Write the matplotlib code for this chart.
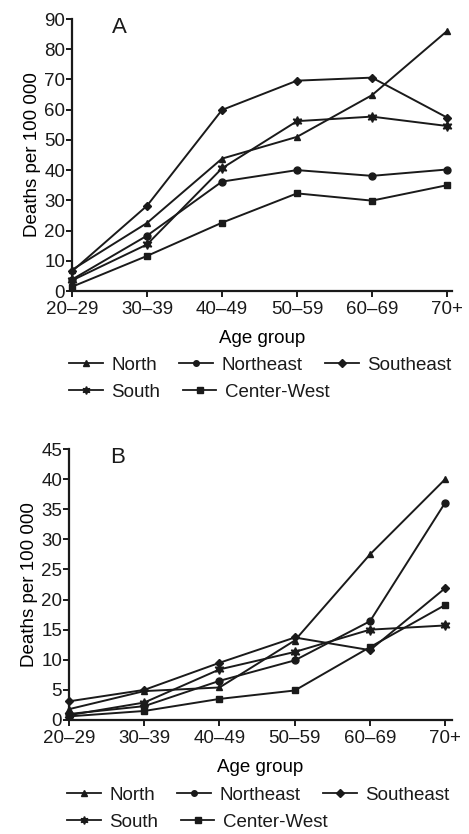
import matplotlib.pyplot as plt
from matplotlib.lines import Line2D

age_groups = ["20–29", "30–39", "40–49", "50–59", "60–69", "70+"]
regions = ["North", "Northeast", "Southeast", "South", "Center-West"]

# Panel A (deaths per 100 000)
north_a = [7.0, 22.5, 43.8, 51.0, 64.8, 86.0]
northeast_a = [3.8, 18.3, 36.2, 40.0, 38.1, 40.2]
southeast_a = [6.5, 28.2, 59.9, 69.6, 70.6, 57.4]
south_a = [3.5, 15.4, 40.6, 56.2, 57.7, 54.6]
centerwest_a = [1.4, 11.6, 22.6, 32.3, 29.9, 35.0]

# Panel B
north_b = [1.8, 4.8, 5.4, 13.2, 27.5, 40.0]
northeast_b = [1.0, 2.3, 6.5, 9.9, 16.4, 36.1]
southeast_b = [3.1, 5.0, 9.5, 13.7, 11.6, 21.9]
south_b = [0.8, 2.9, 8.4, 11.3, 15.0, 15.7]
centerwest_b = [0.6, 1.5, 3.5, 4.9, 12.1, 19.1]

markers = ["^", "o", "D", (6, 1, 0), "s"]
msizes = [5, 5, 4.5, 7, 5]
ink = "#1a1a1a"

plt.rcParams["font.family"] = ["Liberation Sans", "DejaVu Sans"]
plt.rcParams["font.size"] = 13.5
plt.rcParams["text.color"] = ink

fig = plt.figure(figsize=(4.69, 8.34), dpi=100)
axA = fig.add_axes([72 / 469, 1 - 291 / 834, 380 / 469, 272 / 834])
axB = fig.add_axes([69 / 469, 1 - 720 / 834, 383 / 469, 271 / 834])


def draw(ax, series, ymax, ystep, letter, xmax):
    x = list(range(len(age_groups)))
    for vals, m, ms in zip(series, markers, msizes):
        ax.plot(x, vals, color=ink, lw=1.4, marker=m, ms=ms, mec=ink, mfc=ink,
                clip_on=False)
    ax.set_xlim(0, xmax)
    ax.set_ylim(0, ymax)
    ax.set_xticks(x)
    ax.set_xticklabels(age_groups)
    ax.set_yticks(range(0, ymax + 1, ystep))
    for s in ["top", "right"]:
        ax.spines[s].set_visible(False)
    for s in ["left", "bottom"]:
        ax.spines[s].set_linewidth(1.6)
        ax.spines[s].set_color(ink)
    ax.tick_params(axis="both", direction="out", length=4, width=1.4, color=ink,
                   labelcolor=ink, labelsize=13.5)
    ax.tick_params(axis="y", pad=1)
    ax.tick_params(axis="x", pad=3)
    ax.set_xlabel("Age group", fontsize=13.5, labelpad=9)
    ax.set_ylabel("Deaths per 100 000", fontsize=13.5, labelpad=2)
    ax.text(0.126, 0.97, letter, transform=ax.transAxes, fontsize=16,
            ha="center", va="center")


draw(axA, [north_a, northeast_a, southeast_a, south_a, centerwest_a], 90, 10, "A", 5.067)
draw(axB, [north_b, northeast_b, southeast_b, south_b, centerwest_b], 45, 5, "B", 5.09)

handles = [Line2D([], [], color=ink, lw=1.3, marker=m, ms=ms * 0.8, mfc=ink, mec=ink)
           for m, ms in zip(markers, msizes)]


def add_legend(x0, y1, y2):
    leg_kw = dict(frameon=False, loc="center left", borderpad=0, handlelength=1.8,
                  handletextpad=0.45, columnspacing=1.2, fontsize=13.5, borderaxespad=0)
    l1 = fig.legend(handles[:3], regions[:3], ncol=3,
                    bbox_to_anchor=(x0 / 469, 1 - y1 / 834), **leg_kw)
    l2 = fig.legend(handles[3:], regions[3:], ncol=2,
                    bbox_to_anchor=(x0 / 469, 1 - y2 / 834), **leg_kw)
    return l1, l2


add_legend(69, 365, 392)
add_legend(67, 795, 822)

fig.savefig("out.png", dpi=100)
